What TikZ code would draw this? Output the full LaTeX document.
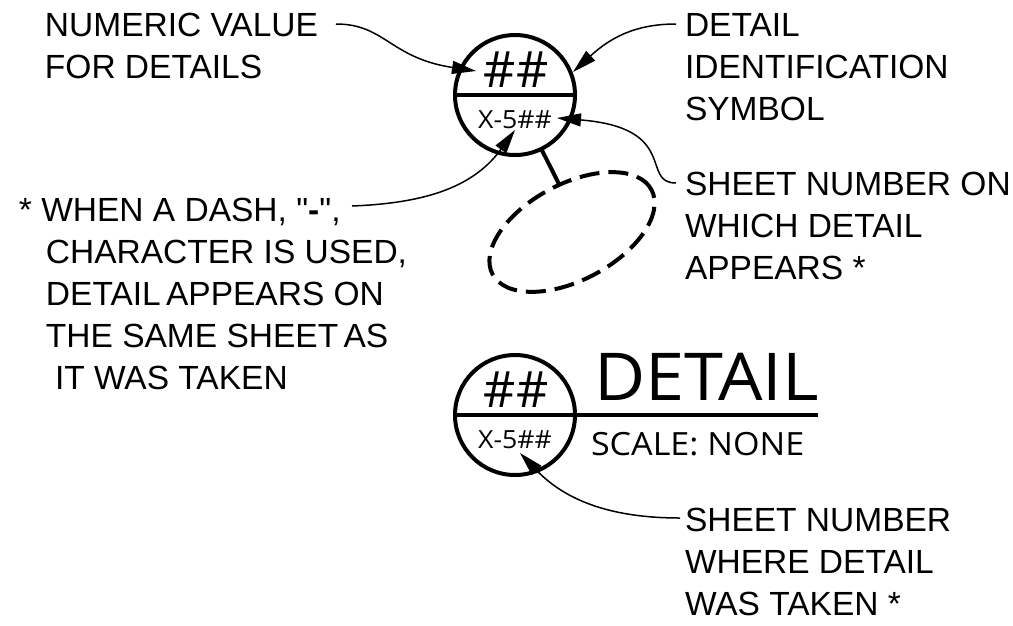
\documentclass[tikz,border=0pt]{standalone}
\usepackage{fontspec}
\setmainfont{Liberation Sans}[Ligatures=TeXOff]
\newfontfamily\symfont[FakeStretch=1.065]{Open Sans}
\newfontfamily\hashfont{Open Sans}
\usetikzlibrary{arrows.meta,shapes.geometric}
\tikzset{
  note/.style={anchor=base west,inner sep=0pt,outer sep=0pt,font=\fontsize{33.5}{42}\selectfont,align=left},
  sym/.style={circle,draw=black,line width=4pt,minimum size=120pt,inner sep=0pt,outer sep=0pt},
  heavy/.style={line width=4pt,line cap=butt},
  lead/.style={line width=1.5pt,-{Triangle[length=24pt,width=13pt]}},
  symbig/.style={inner sep=0pt,outer sep=0pt,anchor=base,font=\hashfont\fontsize{50}{50}\selectfont},
  symsmall/.style={inner sep=0pt,outer sep=0pt,anchor=base,font=\symfont\fontsize{25}{25}\selectfont},
}
\begin{document}
\begin{tikzpicture}[x=1pt,y=-1pt]
\useasboundingbox (0,0) rectangle (1013,625);
% upper symbol
\node[sym] (top) at (515,95) {};
\draw[heavy] (top.west) -- (top.east);
\node[symbig] (tophash) at (516,87) {\#\#};
\node[symsmall] (topref) at (515,128) {X-5\#\#};
\node[draw=black,line width=4pt,dash pattern=on 20pt off 9pt,ellipse,rotate=28,minimum width=180pt,minimum height=96pt,inner sep=0pt,outer sep=0pt] (view) at (572,232) {};
\draw[heavy] (top.-64) -- (view.77);
% notes
\node[note] (n1) at (45,78) {NUMERIC VALUE\\FOR DETAILS};
\node[note] (n2) at (685,120) {DETAIL\\IDENTIFICATION\\SYMBOL};
\node[note] (n3) at (685,279) {SHEET NUMBER ON\\WHICH DETAIL\\APPEARS *};
\node[note] (n4) at (19,389) {* WHEN A DASH, "{\bfseries -}",\\\hspace*{27pt}CHARACTER IS USED,\\\hspace*{27pt}DETAIL\kern-4pt{} APPEARS ON\\\hspace*{27pt}THE SAME SHEET\kern-4pt{} AS\\\hspace*{36pt}IT WAS TAKEN};
\node[note] (n5) at (685,615) {SHEET NUMBER\\WHERE DETAIL\\WAS TAKEN *};
% lower symbol
\node[sym] (bot) at (515,415) {};
\coordinate (ruleend) at (818,415);
\draw[heavy] (bot.west) -- (ruleend);
\node[symbig] (bothash) at (516,407) {\#\#};
\node[symsmall] (botref) at (515,448) {X-5\#\#};
\node[inner sep=0pt,outer sep=0pt,anchor=base west,font=\symfont\fontsize{66}{66}\selectfont] (title) at (594,400) {DETAIL};
\node[inner sep=0pt,outer sep=0pt,anchor=base west,font=\symfont\fontsize{32}{32}\selectfont] (scale) at (591,455) {SCALE: NONE};
% leaders
\coordinate (s1) at (336,24); \coordinate (t1) at (476,71);
\coordinate (s2) at (676,24); \coordinate (t2) at (573,72);
\coordinate (s3) at (676,183); \coordinate (t3) at (557,118);
\coordinate (s4) at (352,206); \coordinate (t4) at (515,130);
\coordinate (s5) at (680,518); \coordinate (t5) at (520,453);
\draw[lead] (s1) .. controls (385,24) and (390,58) .. (t1);
\draw[lead] (s2) .. controls (635,24) and (610,38) .. (t2);
\draw[lead] (s3) .. controls (640,183) and (680,128) .. (t3);
\draw[lead] (s4) .. controls (430,203) and (475,185) .. (t4);
\draw[lead] (s5) .. controls (610,518) and (565,500) .. (t5);
\end{tikzpicture}
\end{document}
